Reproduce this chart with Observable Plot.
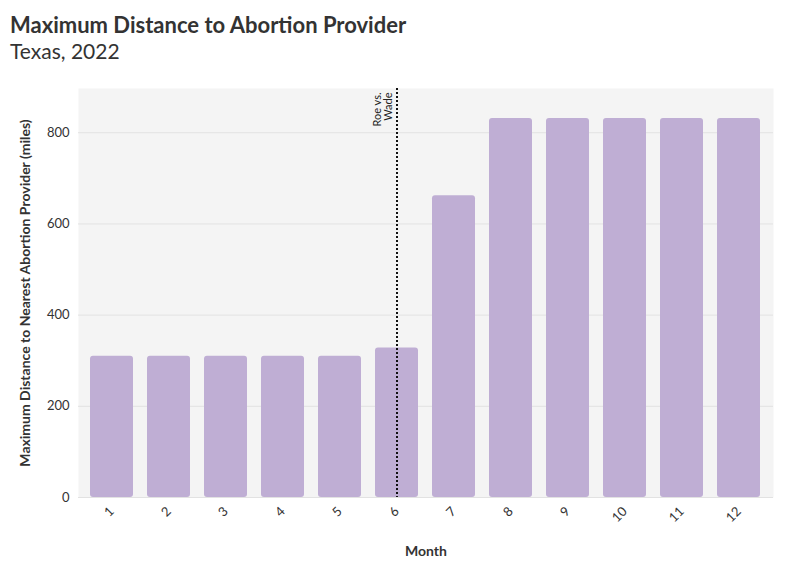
<!DOCTYPE html>
<html>
<head>
<meta charset="utf-8">
<script src="https://cdn.jsdelivr.net/npm/d3@7"></script>
<script src="https://cdn.jsdelivr.net/npm/@observablehq/plot@0.6"></script>
<style>
  body { margin: 0; padding: 12px 10px 0 10px; font-family: "Source Sans Pro", Lato, "Noto Sans", sans-serif; background: #fff; }
  h1 { font-size: 22px; font-weight: 700; margin: 0; color: #333; line-height: 26px; }
  h2 { font-size: 21px; font-weight: 400; margin: 0; color: #333; line-height: 26px; }
</style>
</head>
<body>
<h1>Maximum Distance to Abortion Provider</h1>
<h2>Texas, 2022</h2>
<div id="chart"></div>
<script>
const months = [1, 2, 3, 4, 5, 6, 7, 8, 9, 10, 11, 12];
const distances = [310, 310, 310, 310, 310, 328, 662, 831, 831, 831, 831, 831];
const eventMonth = 6;
const eventLabel = ["Roe vs.", "Wade"];

const data = months.map((m, i) => ({ month: m, distance: distances[i] }));

const chart = Plot.plot({
  width: 776,
  height: 510,
  marginTop: 24,
  marginLeft: 68,
  marginRight: 13,
  marginBottom: 77,
  style: { fontFamily: "Lato, 'Noto Sans', sans-serif", fontSize: "13px", color: "#333", background: "#fff" },
  x: { domain: months, paddingInner: 0.24, paddingOuter: 0.12, label: "Month", labelAnchor: "center", labelOffset: 58, tickRotate: -45, tickSize: 0 },
  y: { domain: [0, 897], ticks: [0, 200, 400, 600, 800], label: "Maximum Distance to Nearest Abortion Provider (miles)", labelAnchor: "center", labelOffset: 58, tickSize: 0, labelArrow: "none" },
  marks: [
    Plot.frame({ fill: "#f4f4f4", stroke: null }),
    Plot.gridY([0, 200, 400, 600, 800], { stroke: "#e2e2e2", strokeOpacity: 1 }),
    Plot.barY(data, { x: "month", y: "distance", fill: "#bfaed4", rx: 3 }),
    Plot.ruleX([eventMonth], { stroke: "#111", strokeWidth: 2, strokeDasharray: "2,2" }),
    Plot.text([eventLabel.join("\n")], { x: eventMonth, frameAnchor: "top", dx: -14, dy: 4, rotate: -90, textAnchor: "end", lineAnchor: "middle", fontSize: 11, fill: "#222" })
  ]
});
d3.select(chart).selectAll("[aria-label='x-axis label'] text, [aria-label='y-axis label'] text").style("font-weight", "700").style("font-size", "14px");
document.getElementById("chart").append(chart);
</script>
</body>
</html>
